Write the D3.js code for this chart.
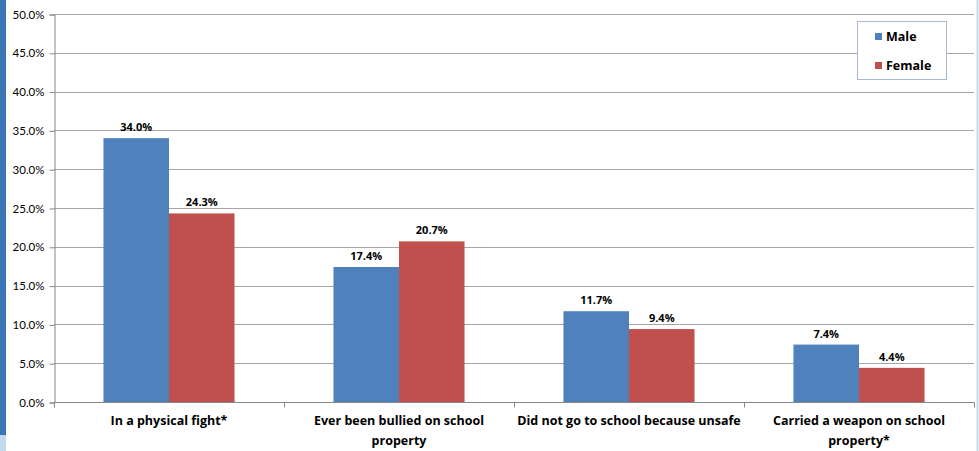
<!DOCTYPE html>
<html><head><meta charset="utf-8">
<script src="https://cdn.jsdelivr.net/npm/d3@7"></script>
<style>
body{margin:0;background:#fff;}
svg{display:block;font-family:"Open Sans",Lato,sans-serif;}
</style></head>
<body>
<svg id="c" width="979" height="451"></svg>
<script>
const categories = [["In a physical fight*"],["Ever been bullied on school","property"],["Did not go to school because unsafe"],["Carried a weapon on school","property*"]];
const seriesNames = ["Male","Female"];
const maleValues = [34.0, 17.4, 11.7, 7.4];
const femaleValues = [24.3, 20.7, 9.4, 4.4];
const yTicks = [0,5,10,15,20,25,30,35,40,45,50];
const colors = ["#4f81bd","#c0504d"];

(function(){
const svg = d3.select("#c");
// side decorations
svg.append("rect").attr("x",0).attr("y",0).attr("width",6).attr("height",435).attr("fill","#3a75b5");
svg.append("rect").attr("x",0).attr("y",435).attr("width",6).attr("height",16).attr("fill","#c3d9ef");
svg.append("line").attr("x1",977.5).attr("x2",977.5).attr("y1",0).attr("y2",451).attr("stroke","#c3d9ef").attr("stroke-width",2);

const pLeft=54, pRight=974, pTop=14, pBottom=402;
const x = d3.scaleBand().domain(d3.range(categories.length)).range([pLeft,pRight]).paddingInner(0).paddingOuter(0);
const y = d3.scaleLinear().domain([0,50]).range([pBottom,pTop]);
const inner = d3.scaleBand().domain([0,1]).range([0,x.bandwidth()]).paddingOuter(0.755).paddingInner(0);

// gridlines
svg.append("g").selectAll("line").data(yTicks.filter(d=>d>0)).join("line")
  .attr("x1",pLeft).attr("x2",pRight)
  .attr("y1",d=>Math.round(y(d))+0.5).attr("y2",d=>Math.round(y(d))+0.5)
  .attr("stroke","#a6a6a6").attr("stroke-width",1);

// y axis
const yAxis = d3.axisLeft(y).tickValues(yTicks).tickFormat(d=>d.toFixed(1)+"%").tickSize(5).tickPadding(5);
const gy = svg.append("g").attr("transform",`translate(${pLeft+0.5},0.5)`).call(yAxis);
gy.select(".domain").attr("stroke","#868686");
gy.selectAll(".tick line").attr("stroke","#868686");
gy.selectAll(".tick text").attr("font-size",11.5).attr("fill","#000").attr("font-family","Lato,'Open Sans',sans-serif");

// bars
const data = categories.map((c,i)=>({i, vals:[maleValues[i],femaleValues[i]]}));
const groups = svg.append("g").selectAll("g").data(data).join("g")
  .attr("transform",d=>`translate(${x(d.i)},0)`);
groups.selectAll("rect").data(d=>d.vals.map((v,s)=>({v,s}))).join("rect")
  .attr("x",d=>inner(d.s)).attr("width",inner.bandwidth())
  .attr("y",d=>y(d.v)).attr("height",d=>y(0)-y(d.v))
  .attr("fill",d=>colors[d.s]);
groups.selectAll("text").data(d=>d.vals.map((v,s)=>({v,s}))).join("text")
  .attr("x",d=>inner(d.s)+inner.bandwidth()/2).attr("y",d=>y(d.v)-7)
  .attr("text-anchor","middle").attr("font-size",11).attr("font-weight","bold")
  .text(d=>d.v.toFixed(1)+"%");

// x axis
const xAxisG = svg.append("g").attr("transform",`translate(0,${pBottom+0.5})`);
xAxisG.append("line").attr("x1",pLeft).attr("x2",pRight).attr("stroke","#868686");
xAxisG.selectAll("line.t").data(d3.range(categories.length+1)).join("line").attr("class","t")
  .attr("x1",d=>Math.round(pLeft+d*x.step())+0.5).attr("x2",d=>Math.round(pLeft+d*x.step())+0.5)
  .attr("y1",0).attr("y2",5).attr("stroke","#868686");
categories.forEach((lines,i)=>{
  const t = xAxisG.append("text").attr("text-anchor","middle").attr("font-size",12.5).attr("font-weight","bold")
    .attr("x",x(i)+x.bandwidth()/2).attr("y",22);
  lines.forEach((l,k)=>t.append("tspan").attr("x",x(i)+x.bandwidth()/2).attr("dy",k?20:0).text(l));
});

// legend
const lg = svg.append("g");
lg.append("rect").attr("x",857.5).attr("y",21.5).attr("width",89).attr("height",58).attr("fill","#fff").attr("stroke","#a6b9d6");
seriesNames.forEach((n,k)=>{
  lg.append("rect").attr("x",875).attr("y",33+k*29).attr("width",7).attr("height",7).attr("fill",colors[k]);
  lg.append("text").attr("x",886).attr("y",41+k*29).attr("font-size",12.5).attr("font-weight","bold").text(n);
});
})();
</script>
</body></html>
